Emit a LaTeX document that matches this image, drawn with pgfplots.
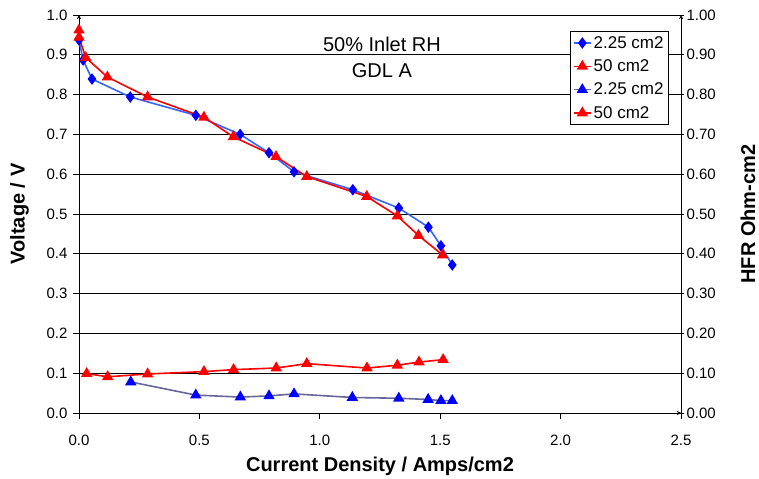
\documentclass[border=0pt]{standalone}
\usepackage{fontspec}
\setmainfont{Liberation Sans}
\usepackage{pgfplots}
\pgfplotsset{compat=1.18}

\definecolor{lineblue}{RGB}{51,102,255}
\definecolor{slate}{RGB}{102,102,153}

\begin{document}
\begin{tikzpicture}
\useasboundingbox (-79bp,-66bp) rectangle (680bp,413bp);
\pgfplotsset{
  base/.style={
    scale only axis, width=602bp, height=398bp,
    at={(0,0)}, anchor=south west,
    xmin=0, xmax=2.5, ymin=0, ymax=1,
    ytick={0,0.1,0.2,0.3,0.4,0.5,0.6,0.7,0.8,0.9,1.0},
    axis line style={-, black, line width=0.9bp},
    major tick length=6bp,
    every tick/.style={black, line width=0.9bp},
    tick label style={font=\fontsize{15bp}{18bp}\selectfont},
    /pgf/number format/assume math mode=true,
    /pgf/number format/fixed, /pgf/number format/fixed zerofill,
  }
}
\begin{axis}[base,
  axis x line=bottom, axis y line=left,
  tick align=outside,
  xtick={0,0.5,1.0,1.5,2.0,2.5},
  /pgf/number format/precision=1,
  xticklabel shift=13bp,
  yticklabel shift=2bp,
  xlabel={Current Density / Amps/cm2},
  ylabel={Voltage / V},
  xlabel style={font=\bfseries\fontsize{20bp}{24bp}\selectfont,
    at={(axis description cs:0.5,0)}, anchor=center, /tikz/yshift=-53bp},
  ylabel style={font=\bfseries\fontsize{20bp}{24bp}\selectfont, /tikz/yshift=11bp},
  ymajorgrids,
  grid style={black, line width=0.8bp},
  legend style={at={(0.98,0.96)}, anchor=north east, draw=black, line width=0.8bp,
    font=\fontsize{17bp}{20bp}\selectfont, row sep=6bp, inner sep=3bp,
    cells={anchor=west}},
  legend cell align=left,
]
% 2.25 cm2 voltage
\addplot[color=lineblue, line width=1.6bp, mark=diamond*, mark size=4.5bp,
  mark options={fill=blue, draw=blue, solid}] coordinates {
  (0.000,0.937) (0.017,0.887) (0.054,0.839) (0.213,0.794) (0.485,0.748)
  (0.669,0.700) (0.789,0.654) (0.893,0.606) (1.137,0.561) (1.328,0.515)
  (1.451,0.467) (1.503,0.420) (1.550,0.372)
};
\addlegendentry{2.25 cm2}
% 50 cm2 voltage
\addplot[color=red, line width=1.6bp, mark=triangle*, mark size=5bp,
  mark options={fill=red, draw=red, solid}] coordinates {
  (0.000,0.962) (0.000,0.944) (0.028,0.893) (0.118,0.844) (0.285,0.794)
  (0.519,0.743) (0.641,0.694) (0.818,0.644) (0.946,0.594) (1.195,0.544)
  (1.322,0.495) (1.410,0.446) (1.510,0.397)
};
\addlegendentry{50 cm2}
% 2.25 cm2 HFR
\addplot[color=slate, line width=1.6bp, mark=triangle*, mark size=5bp,
  mark options={fill=blue, draw=blue, solid}] coordinates {
  (0.215,0.078) (0.485,0.045) (0.670,0.040) (0.789,0.043) (0.893,0.048)
  (1.135,0.039) (1.328,0.037) (1.450,0.034) (1.503,0.031) (1.550,0.031)
};
\addlegendentry{2.25 cm2}
% 50 cm2 HFR
\addplot[color=red, line width=1.6bp, mark=triangle*, mark size=5bp,
  mark options={fill=red, draw=red, solid}] coordinates {
  (0.032,0.099) (0.119,0.091) (0.285,0.098) (0.519,0.104) (0.642,0.109)
  (0.819,0.113) (0.946,0.124) (1.196,0.113) (1.322,0.120) (1.412,0.128)
  (1.512,0.134)
};
\addlegendentry{50 cm2}
\node[align=center, font=\fontsize{20bp}{26bp}\selectfont] at (axis cs:1.258,0.894)
  {50\% Inlet RH\\GDL A};
\end{axis}
\begin{axis}[base,
  axis x line=none, axis y line=right,
  tick align=center,
  /pgf/number format/precision=2,
  yticklabel shift=-1bp,
  ylabel={HFR Ohm-cm2},
  ylabel style={font=\bfseries\fontsize{20bp}{24bp}\selectfont, /tikz/yshift=-18bp},
]
\end{axis}
\end{tikzpicture}
\end{document}
